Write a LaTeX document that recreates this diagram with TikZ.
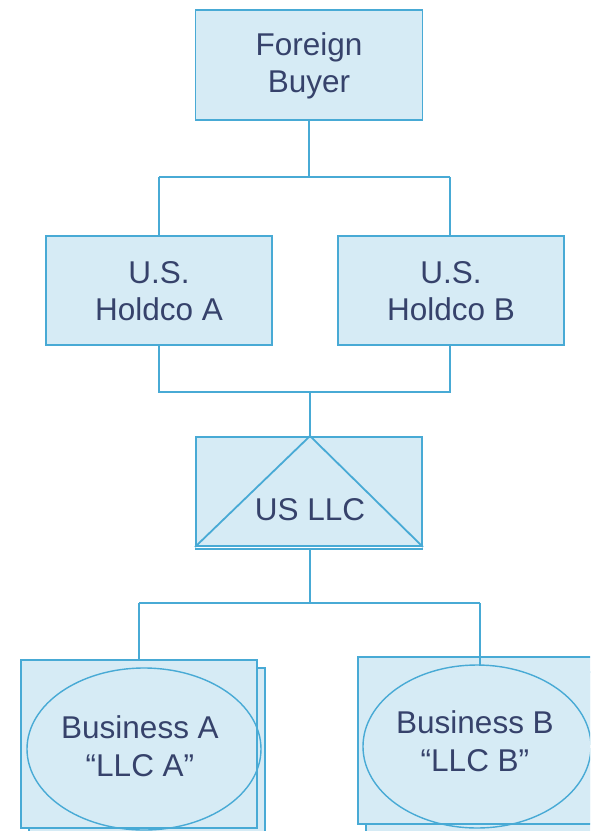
\documentclass[tikz,border=0pt]{standalone}
\usepackage{fontspec}
\setmainfont{Liberation Sans}
\usetikzlibrary{shapes.geometric}
\definecolor{bfill}{HTML}{D6EBF5}
\definecolor{bline}{HTML}{48AAD5}
\definecolor{btext}{HTML}{36426B}
\begin{document}
\begin{tikzpicture}[x=1pt,y=-1pt,
  lbl/.style={text=btext,font=\fontsize{31.5}{37.5}\selectfont,align=center,inner sep=0pt},
  boxshape/.style={draw=bline,fill=bfill,line width=1.8pt},
  conn/.style={draw=bline,line width=1.8pt}]
\useasboundingbox (0,0) rectangle (590,831);
\clip (0,0) rectangle (590,831);
% boxes
\node[boxshape,minimum width=227pt,minimum height=110pt,inner sep=0pt] (fb) at (309,65) {};
\node[lbl] at (309,66) {Foreign\\Buyer};
\node[boxshape,minimum width=226pt,minimum height=109pt,inner sep=0pt] (ha) at (159,290.5) {};
\node[lbl] at (159,291) {U.S.\\Holdco A};
\node[boxshape,minimum width=226pt,minimum height=109pt,inner sep=0pt] (hb) at (451,290.5) {};
\node[lbl] at (451,291) {U.S.\\Holdco B};
% US LLC
\node[boxshape,minimum width=226pt,minimum height=109pt,inner sep=0pt] (llc) at (309,491.5) {};
\draw[conn] (llc.south west) ++(0,2) -- ++(228,0);
\draw[conn] (llc.south west) -- (310,436) -- (llc.south east);
\node[lbl] (llct) at (310,510) {US LLC};
% Business A
\draw[boxshape] (29,668) rectangle (265,840);
\node[boxshape,minimum width=236pt,minimum height=168pt,inner sep=0pt] (ba) at (139,744) {};
\node[draw=bline,line width=1.4pt,ellipse,minimum width=234pt,minimum height=162pt,inner sep=0pt] (bae) at (144,749) {};
\node[lbl] at (140,746) {Business A\\``LLC A''};
% Business B
\draw[boxshape] (366,672) rectangle (600,840);
\node[boxshape,minimum width=240pt,minimum height=167pt,inner sep=0pt,anchor=north west] (bb) at (357,656) {};
\node[draw=bline,line width=1.4pt,ellipse,minimum width=228pt,minimum height=163pt,inner sep=0pt] (bbe) at (477,746.5) {};
\node[lbl] at (475,741) {Business B\\``LLC B''};
% connectors
\coordinate (j1) at (309,177);
\draw[conn] (fb.south) -- (j1);
\draw[conn] (159,177) -- (450,177);
\draw[conn] (159,177) -- (ha.north);
\draw[conn] (450,177) -- (450,236);
\draw[conn] (ha.south) -- (159,392) -- (450,392) -- (450,345);
\draw[conn] (310,392) -- (310,436);
\draw[conn] (310,548) -- (310,603);
\draw[conn] (139,603) -- (480,603);
\draw[conn] (139,603) -- (139,660);
\draw[conn] (480,603) -- (480,665);
\end{tikzpicture}
\end{document}
